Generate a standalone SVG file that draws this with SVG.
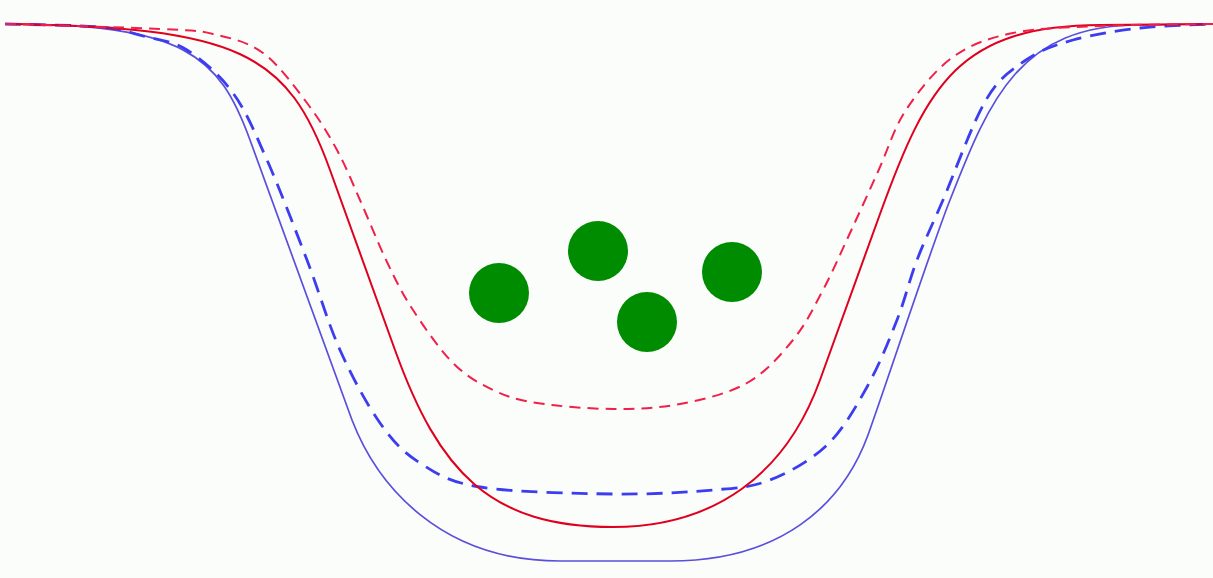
<svg xmlns="http://www.w3.org/2000/svg" width="1213" height="578" viewBox="0 0 1213 578">
<style>
.bs{fill:none;stroke:#5a4fdc;stroke-width:1.7}
.bd{fill:none;stroke:#3d3df0;stroke-width:2.8;stroke-dasharray:16 9}
.rs{fill:none;stroke:#e0001e;stroke-width:2}
.rd{fill:none;stroke:#f0204a;stroke-width:2;stroke-dasharray:11 7}
.ball{fill:#008c00}
</style>
<rect width="1213" height="578" fill="#fbfdfb"/>
<g id="curves">
<path id="blue-solid" class="bs" d="M5,24 C185,24 219,55 250,140 L352,420 C377,485 440,561 560,561 L670,561 C780,561 842,506 868,435 C885,388 931.5,246.5 950,200 C990,98 1020,25 1140,25 L1213,24"/>
<path id="blue-dashed" class="bd" d="M5,24 C20.8,24.5 77,25 100,27 C123,29 128.5,32.2 143,36 C157.5,39.8 172,40.5 187,50 C202,59.5 219.7,74.7 233,93 C246.3,111.3 254.7,132.2 267,160 C279.3,187.8 294.8,228.3 307,260 C319.2,291.7 327.8,322.8 340,350 C352.2,377.2 366.7,404.2 380,423 C393.3,441.8 403.3,452.3 420,463 C436.7,473.7 447.8,481.8 480,487 C512.2,492.2 574.2,493.5 613,494 C651.8,494.5 686.8,492.3 713,490 C739.2,487.7 751,487.5 770,480 C789,472.5 810.8,460.5 827,445 C843.2,429.5 855.3,407.8 867,387 C878.7,366.2 888.7,341.2 897,320 C905.3,298.8 909.3,280 917,260 C924.7,240 931.5,226.7 943,200 C954.5,173.3 972.2,123.3 986,100 C999.8,76.7 1011.5,70 1026,60 C1040.5,50 1054,45.3 1073,40 C1092,34.7 1116.7,30.7 1140,28 C1163.3,25.3 1200.8,24.7 1213,24"/>
<path id="red-solid" class="rs" d="M5,24 C240,27 287.6,52.4 330,170 L395,350 C439,472 490,527 613,527 C715,527 786,474 820,380 L880,214 C927.6,82.4 960,26 1100,25 L1213,24"/>
<path id="red-dashed" class="rd" d="M5,24 C30.8,24.8 125.3,27.3 160,29 C194.7,30.7 195.8,30 213,34 C230.2,38 247.3,41.5 263,53 C278.7,64.5 294.7,86.8 307,103 C319.3,119.2 328.2,133.8 337,150 C345.8,166.2 351.7,181.3 360,200 C368.3,218.7 378.2,243.7 387,262 C395.8,280.3 402,293.2 413,310 C424,326.8 439.7,349.7 453,363 C466.3,376.3 479,383.3 493,390 C507,396.7 517,399.8 537,403 C557,406.2 589.2,408.8 613,409 C636.8,409.2 657.7,408.3 680,404 C702.3,399.7 728.2,393.7 747,383 C765.8,372.3 780.3,355.5 793,340 C805.7,324.5 813.5,307.8 823,290 C832.5,272.2 840.7,253 850,233 C859.3,213 869.4,190.5 878.7,170 C888,149.5 893.6,128.8 906,110 C918.4,91.2 935.2,69.8 953,57 C970.8,44.2 988.5,38.2 1013,33 C1037.5,27.8 1066.7,27.5 1100,26 C1133.3,24.5 1194.2,24.3 1213,24"/>
</g>
<g id="particles">
<circle id="p1" class="ball" cx="499" cy="293" r="30"/>
<circle id="p2" class="ball" cx="598" cy="251" r="30"/>
<circle id="p3" class="ball" cx="647" cy="322" r="30"/>
<circle id="p4" class="ball" cx="732" cy="272" r="30"/>
</g>
</svg>
